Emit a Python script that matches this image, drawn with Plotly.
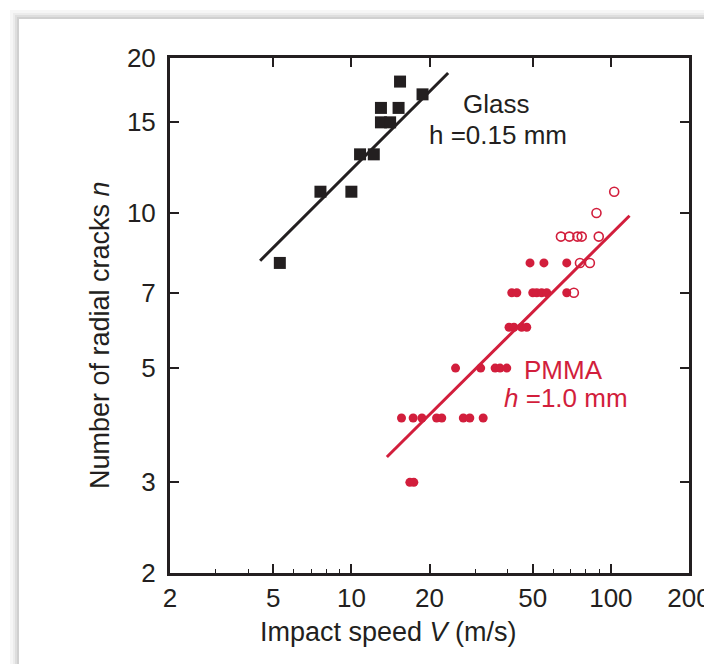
import plotly.graph_objects as go

# ---------------- data ----------------
glass_v = [5.3, 7.6, 10.0, 10.8, 12.2, 13.0, 14.1, 13.0, 15.2, 15.4, 18.8]
glass_n = [8, 11, 11, 13, 13, 15, 15, 16, 16, 18, 17]

pmma_filled_v = [16.8, 17.4,
                 15.6, 17.3, 18.7, 21.3, 22.3, 27.0, 28.6, 32.2,
                 25.2, 31.5, 35.8, 37.4, 39.7,
                 40.5, 42.3, 45.3, 47.4,
                 41.5, 43.4, 50.0, 51.8, 54.1, 56.6, 67.6,
                 48.8, 55.2, 67.6]
pmma_filled_n = [3, 3,
                 4, 4, 4, 4, 4, 4, 4, 4,
                 5, 5, 5, 5, 5,
                 6, 6, 6, 6,
                 7, 7, 7, 7, 7, 7, 7,
                 8, 8, 8]

pmma_open_v = [72, 76, 83, 64.2, 69.2, 74.3, 77.2, 89.8, 88, 103]
pmma_open_n = [7, 8, 8, 9, 9, 9, 9, 9, 10, 11]

glass_fit_v = [4.45, 23.6]
glass_fit_n = [8.08, 18.7]
pmma_fit_v = [13.7, 118]
pmma_fit_n = [3.36, 9.88]

x_ticks = [2, 5, 10, 20, 50, 100, 200]
x_minor = [3, 4, 6, 7, 8, 9, 30, 40, 60, 70, 80, 90]
x_top_ticks = [5, 10, 20, 50, 100]
y_ticks = [2, 3, 5, 7, 10, 15, 20]

# ---------------- style ----------------
RED = "#d21e3c"
INK = "#231f20"
FONT = "Arial, Liberation Sans, Helvetica, sans-serif"
FS_TICK = 26
FS_TEXT = 26
FS_TITLE = 27

# page body has an 8px margin: figure drawn at (8, 8)
OFF = 8
W, H = 712 - OFF, 672 - 2 * OFF
L, T = 170 - OFF, 58 - OFF
pw, ph = 519, 515
R = W - L - pw
B = H - T - ph


def px(x):  # reference page pixel -> paper x
    return (x - OFF - L) / pw


def py(y):  # reference page pixel -> paper y
    return (T + ph - (y - OFF)) / ph


fig = go.Figure()

fig.add_trace(go.Scatter(x=glass_fit_v, y=glass_fit_n, mode="lines",
                         line=dict(color=INK, width=3), showlegend=False))
fig.add_trace(go.Scatter(x=glass_v, y=glass_n, mode="markers",
                         marker=dict(symbol="square", size=12, color=INK, line=dict(width=0)),
                         showlegend=False))
fig.add_trace(go.Scatter(x=pmma_fit_v, y=pmma_fit_n, mode="lines", xaxis="x2",
                         line=dict(color=RED, width=3), showlegend=False))
fig.add_trace(go.Scatter(x=pmma_filled_v, y=pmma_filled_n, mode="markers",
                         marker=dict(symbol="circle", size=9, color=RED, line=dict(width=0)),
                         showlegend=False))
fig.add_trace(go.Scatter(x=pmma_open_v, y=pmma_open_n, mode="markers",
                         marker=dict(symbol="circle-open", size=9, color=RED,
                                     line=dict(width=1.6, color=RED)),
                         showlegend=False))

fig.update_layout(
    width=W, height=H,
    margin=dict(l=L, r=R, t=T, b=B, autoexpand=False),
    paper_bgcolor="white", plot_bgcolor="white",
    font=dict(family=FONT, size=FS_TICK, color=INK),
    showlegend=False,
    xaxis=dict(type="log", range=[0.30103, 2.30103], tickvals=x_ticks,
               ticktext=[str(v) for v in x_ticks],
               ticks="inside", ticklen=9, tickwidth=1.6, tickcolor=INK,
               minor=dict(tickvals=x_minor, ticks="inside", ticklen=4, tickwidth=1.4,
                          tickcolor=INK),
               showline=True, linewidth=3, linecolor=INK, mirror=False,
               showgrid=False, zeroline=False, automargin=False,
               tickfont=dict(size=FS_TICK, color=INK, family=FONT)),
    xaxis2=dict(type="log", range=[0.30103, 2.30103], overlaying="x", side="top",
                matches="x", anchor="y",
                tickvals=x_top_ticks, ticks="inside", ticklen=9, tickwidth=1.6,
                tickcolor=INK, showticklabels=False, automargin=False,
                showline=True, linewidth=3, linecolor=INK, showgrid=False, zeroline=False),
    yaxis=dict(type="log", range=[0.30103, 1.30103], tickvals=y_ticks,
               ticktext=[str(v) for v in y_ticks],
               ticks="inside", ticklen=9, tickwidth=1.6, tickcolor=INK,
               ticklabelstandoff=6,
               showline=True, linewidth=3, linecolor=INK, mirror="ticks",
               showgrid=False, zeroline=False, automargin=False,
               tickfont=dict(size=FS_TICK, color=INK, family=FONT)),
)

ann = [
    dict(text="Glass", x=px(496), y=py(104), size=FS_TEXT, color=INK, height=28),
    dict(text="h =0.15 mm", x=px(498), y=py(135), size=FS_TEXT, color=INK, height=28),
    dict(text="PMMA", x=px(563), y=py(369), size=FS_TEXT, color=RED, height=27),
    dict(text="<i>h</i> =1.0 mm", x=px(566), y=py(397), size=FS_TEXT, color=RED, height=27),
    dict(text="Impact speed <i>V</i> (m/s)", x=px(388), y=py(632), size=FS_TITLE, color=INK),
    dict(text="Number of radial cracks <i>n</i>", x=px(100), y=py(335), size=FS_TITLE,
         color=INK, textangle=-90),
]
for a in ann:
    f = dict(family=FONT, size=a.pop("size"), color=a.pop("color"))
    fig.add_annotation(xref="paper", yref="paper", showarrow=False,
                       xanchor="center", yanchor="middle", valign="middle", font=f, **a)

# page-card drop shadow (decoration), in reference page pixels
shadow = [("#f6f6f6", 10), ("#ececec", 13), ("#dedede", 15), ("#d0d0d0", 17)]
for col, edge in shadow:
    fig.add_shape(type="rect", xref="paper", yref="paper", layer="below",
                  x0=px(edge), x1=px(720), y0=py(680), y1=py(edge),
                  line=dict(width=0), fillcolor=col)
fig.add_shape(type="rect", xref="paper", yref="paper", layer="below",
              x0=px(19), x1=px(720), y0=py(680), y1=py(19),
              line=dict(width=0), fillcolor="white")

fig.write_html("out.html")
